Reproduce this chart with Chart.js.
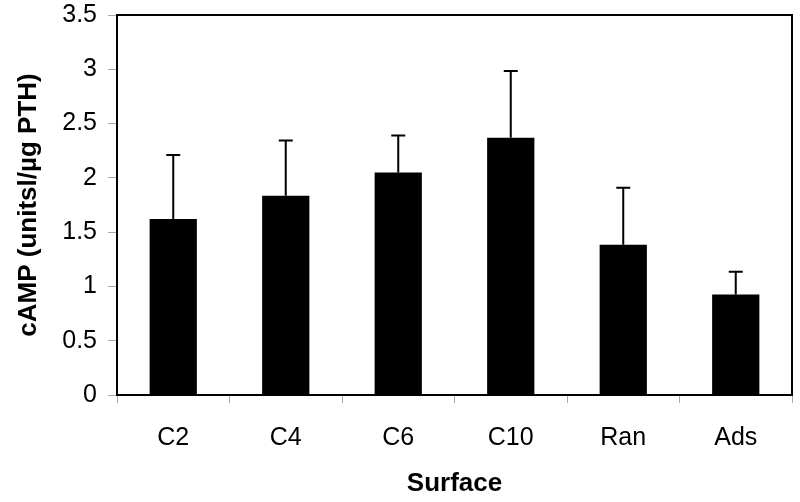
<!DOCTYPE html>
<html>
<head>
<meta charset="utf-8">
<script src="https://cdn.jsdelivr.net/npm/chart.js@4"></script>
<style>
  html, body { margin: 0; padding: 0; background: #fff; }
  #wrap { width: 800px; height: 502px; }
</style>
</head>
<body>
<div id="wrap"><canvas id="chart"></canvas></div>
<script>
const surfaces = ["C2", "C4", "C6", "C10", "Ran", "Ads"];
const camp = [1.62, 1.835, 2.05, 2.37, 1.385, 0.925];
const campErr = [0.59, 0.51, 0.34, 0.615, 0.525, 0.21];
const yTicks = [0, 0.5, 1, 1.5, 2, 2.5, 3, 3.5];

// box round the plot + upper error bars
const extras = {
    id: "extras",
    afterDatasetsDraw(chart) {
        const ctx = chart.ctx;
        const area = chart.chartArea;
        const y = chart.scales.y;
        const meta = chart.getDatasetMeta(0);
        ctx.save();
        ctx.strokeStyle = "#000";
        ctx.lineWidth = 2;
        meta.data.forEach(function(bar, i) {
            const top = y.getPixelForValue(camp[i] + campErr[i]);
            ctx.beginPath();
            ctx.moveTo(bar.x, bar.y);
            ctx.lineTo(bar.x, top);
            ctx.moveTo(bar.x - 7, top);
            ctx.lineTo(bar.x + 7, top);
            ctx.stroke();
        });
        ctx.strokeRect(area.left, area.top, area.right - area.left, area.bottom - area.top);
        ctx.restore();
    }
};

new Chart(document.getElementById("chart"), {
    type: "bar",
    data: {
        labels: surfaces,
        datasets: [{
            data: camp,
            backgroundColor: "#000",
            borderWidth: 0,
            barPercentage: 0.6,
            categoryPercentage: 0.7
        }]
    },
    options: {
        responsive: true,
        maintainAspectRatio: false,
        animation: false,
        layout: { padding: { top: 15, right: 8, left: 0, bottom: 0 } },
        plugins: {
            legend: { display: false },
            tooltip: { enabled: false }
        },
        scales: {
            x: {
                afterFit: function(scale) { scale.height = 107; },
                grid: { drawOnChartArea: false, drawTicks: true, tickLength: 8, color: "#aaa", offset: true },
                border: { color: "#000", width: 2 },
                ticks: { color: "#000", padding: 20, font: { family: "Liberation Sans", size: 25 } },
                title: {
                    display: true,
                    text: "Surface",
                    color: "#000",
                    padding: { top: 0, bottom: 3 },
                    font: { family: "Liberation Sans", size: 26, weight: "bold" }
                }
            },
            y: {
                min: 0,
                max: 3.5,
                afterFit: function(scale) {
                    scale.width = 117;
                    scale.paddingTop = 0;
                    scale.paddingBottom = 0;
                },
                afterBuildTicks: function(axis) {
                    axis.ticks = yTicks.map(function(v) { return { value: v }; });
                },
                grid: { drawOnChartArea: false, drawTicks: true, tickLength: 9, color: "#aaa" },
                border: { color: "#000", width: 2 },
                ticks: {
                    color: "#000",
                    padding: 11,
                    font: { family: "Liberation Sans", size: 25 },
                    callback: function(v) { return String(v); }
                },
                title: {
                    display: true,
                    text: "cAMP (unitsl/µg PTH)",
                    color: "#000",
                    padding: { top: 13, bottom: 0 },
                    font: { family: "Liberation Sans", size: 26, weight: "bold" }
                }
            }
        }
    },
    plugins: [extras]
});
</script>
</body>
</html>
